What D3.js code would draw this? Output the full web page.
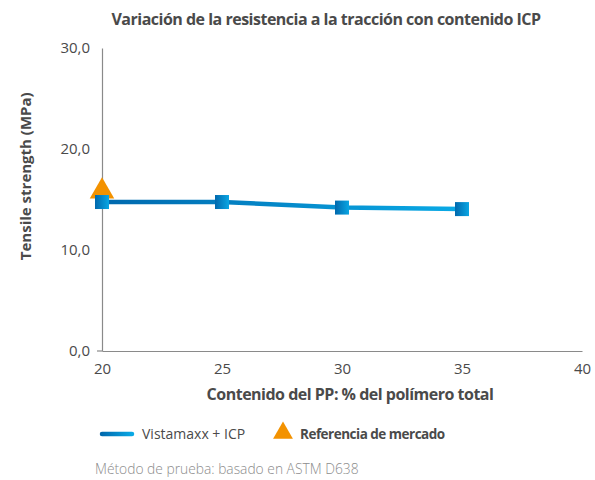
<!DOCTYPE html>
<html>
<head>
<meta charset="utf-8">
<script src="https://cdn.jsdelivr.net/npm/d3@7"></script>
<style>
  body { margin: 0; background: #fff; }
  svg { font-family: "Open Sans", "Noto Sans", sans-serif; }
</style>
</head>
<body>
<svg id="chart" width="595" height="480"></svg>
<script>
// data
const contenido = [20, 25, 30, 35];
const vistamaxx = [14.75, 14.75, 14.2, 14.05];
const referencia = [{ x: 20, y: 15.8 }];
const xTicks = [20, 25, 30, 35, 40];
const yTicks = [0, 10, 20, 30];

const svg = d3.select('#chart');
const textColor = '#4a4a4a';

const x = d3.scaleLinear().domain([20, 40]).range([102, 582]);
const y = d3.scaleLinear().domain([0, 30]).range([351, 48]);

// gradients
const defs = svg.append('defs');
const grad = defs.append('linearGradient').attr('id', 'lineGrad')
  .attr('gradientUnits', 'userSpaceOnUse')
  .attr('x1', x(20)).attr('x2', x(35)).attr('y1', 0).attr('y2', 0);
grad.append('stop').attr('offset', '0%').attr('stop-color', '#0068ad');
grad.append('stop').attr('offset', '100%').attr('stop-color', '#0aaae6');

const sq = defs.append('linearGradient').attr('id', 'sqGrad');
sq.append('stop').attr('offset', '0%').attr('stop-color', '#0068ad');
sq.append('stop').attr('offset', '100%').attr('stop-color', '#0aa6e3');

const legGrad = defs.append('linearGradient').attr('id', 'legGrad')
  .attr('gradientUnits', 'userSpaceOnUse')
  .attr('x1', 101).attr('x2', 133).attr('y1', 0).attr('y2', 0);
legGrad.append('stop').attr('offset', '0%').attr('stop-color', '#0068ad');
legGrad.append('stop').attr('offset', '100%').attr('stop-color', '#0aaae6');

// title
svg.append('text')
  .attr('x', 326).attr('y', 25)
  .attr('text-anchor', 'middle')
  .attr('font-size', 16).attr('font-weight', 'bold')
  .attr('fill', textColor)
  .attr('letter-spacing', '-0.5')
  .text('Variación de la resistencia a la tracción con contenido ICP');

// axes
const xAxis = svg.append('g')
  .attr('transform', `translate(0,${y(0)})`)
  .call(d3.axisBottom(x).tickValues(xTicks).tickSize(0).tickPadding(12));
xAxis.select('.domain').attr('stroke', '#8a8a8a').attr('stroke-width', 1.2);
xAxis.selectAll('text').attr('font-size', 15).attr('fill', textColor)
  .attr('font-family', '"Open Sans", "Noto Sans", sans-serif');

const yAxis = svg.append('g')
  .attr('transform', `translate(${x(20)},0)`)
  .call(d3.axisLeft(y).tickValues(yTicks).tickSize(0).tickPadding(12)
    .tickFormat(d => d3.format('.1f')(d).replace('.', ',')));
yAxis.select('.domain').attr('stroke', '#8a8a8a').attr('stroke-width', 1.2);
yAxis.selectAll('text').attr('font-size', 15).attr('fill', textColor)
  .attr('font-family', '"Open Sans", "Noto Sans", sans-serif');
// small tick at the origin
svg.append('line')
  .attr('x1', x(20) - 5).attr('x2', x(20))
  .attr('y1', y(0)).attr('y2', y(0))
  .attr('stroke', '#8a8a8a').attr('stroke-width', 1.2);

// axis titles
svg.append('text')
  .attr('transform', `translate(31,${y(17.3)}) rotate(-90)`)
  .attr('text-anchor', 'middle')
  .attr('font-size', 15).attr('font-weight', 'bold')
  .attr('fill', textColor)
  .text('Tensile strength (MPa)');

svg.append('text')
  .attr('x', 350).attr('y', 400)
  .attr('text-anchor', 'middle')
  .attr('font-size', 16).attr('font-weight', 'bold')
  .attr('fill', textColor)
  .attr('letter-spacing', '-0.5')
  .text('Contenido del PP: % del polímero total');

// reference triangle (drawn behind the line)
svg.selectAll('.ref')
  .data(referencia)
  .join('path')
  .attr('class', 'ref')
  .attr('transform', d => `translate(${x(d.x)},${y(d.y)})`)
  .attr('d', d3.symbol().type(d3.symbolTriangle).size(260))
  .attr('fill', '#f39200');

// line
const pts = contenido.map((c, i) => [c, vistamaxx[i]]);
svg.append('path')
  .datum(pts)
  .attr('d', d3.line().x(d => x(d[0])).y(d => y(d[1])))
  .attr('fill', 'none')
  .attr('stroke', 'url(#lineGrad)')
  .attr('stroke-width', 4.5);

// square markers
svg.selectAll('.sq')
  .data(pts)
  .join('rect')
  .attr('class', 'sq')
  .attr('x', d => x(d[0]) - 7)
  .attr('y', d => y(d[1]) - 7)
  .attr('width', 14).attr('height', 14)
  .attr('fill', 'url(#sqGrad)');

// legend
svg.append('line')
  .attr('x1', 102).attr('x2', 132)
  .attr('y1', 434).attr('y2', 434)
  .attr('stroke', 'url(#legGrad)')
  .attr('stroke-width', 4.5)
  .attr('stroke-linecap', 'round');
svg.append('text')
  .attr('x', 142).attr('y', 439)
  .attr('font-size', 14).attr('fill', textColor)
  .text('Vistamaxx + ICP');

svg.append('path')
  .attr('transform', 'translate(283,433)')
  .attr('d', d3.symbol().type(d3.symbolTriangle).size(170))
  .attr('fill', '#f39200');
svg.append('text')
  .attr('x', 300).attr('y', 439)
  .attr('font-size', 13.5).attr('font-weight', 'bold')
  .attr('letter-spacing', '-0.5')
  .attr('fill', textColor)
  .text('Referencia de mercado');

// footnote
svg.append('text')
  .attr('x', 95).attr('y', 474)
  .attr('font-size', 13.8).attr('font-weight', 300).attr('fill', '#8c8c8c')
  .text('Método de prueba: basado en ASTM D638');
</script>
</body>
</html>
